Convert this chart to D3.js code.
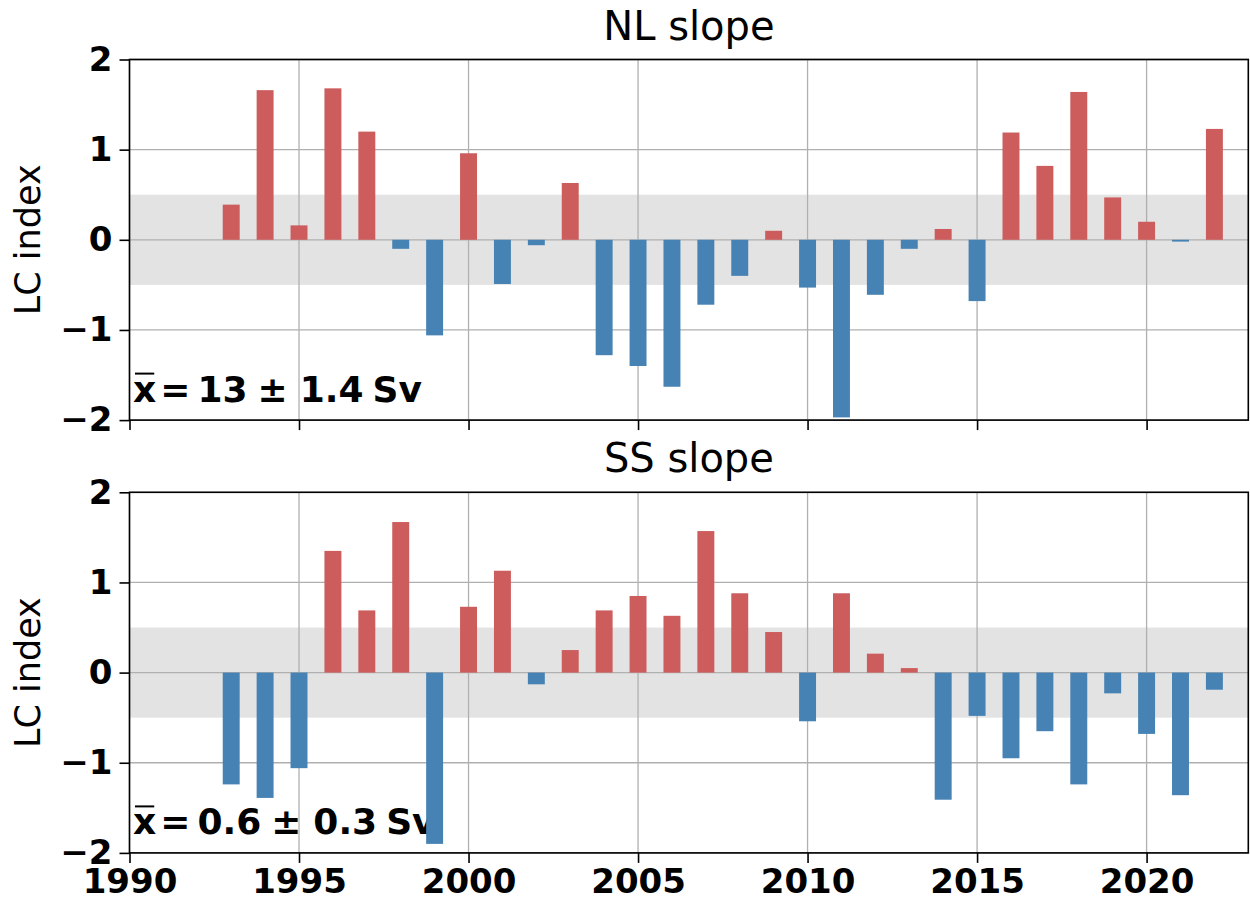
<!DOCTYPE html>
<html>
<head>
<meta charset="utf-8">
<script src="https://cdn.jsdelivr.net/npm/d3@7"></script>
<style>
  body { margin: 0; background: #fff; }
  text { font-family: "DejaVu Sans", sans-serif; fill: #000; }
</style>
</head>
<body>
<svg id="chart" width="1250" height="907"></svg>
<script>
// Years covered by the index
const years = [1993, 1994, 1995, 1996, 1997, 1998, 1999, 2000, 2001, 2002,
               2003, 2004, 2005, 2006, 2007, 2008, 2009, 2010, 2011, 2012,
               2013, 2014, 2015, 2016, 2017, 2018, 2019, 2020, 2021, 2022];

// Labrador Current index, Newfoundland slope
const nlSlope = [0.39, 1.66, 0.16, 1.68, 1.20, -0.10, -1.06, 0.96, -0.49, -0.06,
                 0.63, -1.28, -1.40, -1.63, -0.72, -0.40, 0.10, -0.53, -1.97, -0.61,
                 -0.10, 0.12, -0.68, 1.19, 0.82, 1.64, 0.47, 0.20, -0.02, 1.23];

// Labrador Current index, Scotian Shelf slope
const ssSlope = [-1.24, -1.39, -1.06, 1.35, 0.69, 1.67, -1.90, 0.73, 1.13, -0.13,
                 0.25, 0.69, 0.85, 0.63, 1.57, 0.88, 0.45, -0.54, 0.88, 0.21,
                 0.05, -1.41, -0.48, -0.95, -0.65, -1.24, -0.23, -0.68, -1.36, -0.19];

const panelTitles = ["NL slope", "SS slope"];
const meanValues = ["13", "0.6"];
const meanErrors = ["1.4", "0.3"];
const xTicks = [1990, 1995, 2000, 2005, 2010, 2015, 2020];
const yTicks = [-2, -1, 0, 1, 2];
const xDomain = [1990, 2023];
const yDomain = [-2, 2];
const normalBand = [-0.5, 0.5];

const svg = d3.select("#chart");
const left = 129.5, right = 1248.3;
const panelTops = [59.5, 492.3];
const panelHeight = 360.6;

const x = d3.scaleLinear().domain(xDomain).range([left, right]);
const barWidth = x(1990.5) - x(1990);

const series = [nlSlope, ssSlope];

series.forEach((vals, p) => {
  const top = panelTops[p], bottom = top + panelHeight;
  const y = d3.scaleLinear().domain(yDomain).range([bottom, top]);
  const g = svg.append("g");

  // shaded normal range
  g.append("rect")
    .attr("x", left).attr("width", right - left)
    .attr("y", y(normalBand[1])).attr("height", y(normalBand[0]) - y(normalBand[1]))
    .attr("fill", "#e3e3e3");

  // grid
  g.append("g").selectAll("line").data(xTicks).join("line")
    .attr("x1", d => x(d)).attr("x2", d => x(d))
    .attr("y1", top).attr("y2", bottom)
    .attr("stroke", "#b0b0b0").attr("stroke-width", 1.3);
  g.append("g").selectAll("line").data(yTicks).join("line")
    .attr("x1", left).attr("x2", right)
    .attr("y1", d => y(d)).attr("y2", d => y(d))
    .attr("stroke", "#b0b0b0").attr("stroke-width", 1.3);

  // mean annotation, laid out piece by piece like math text (sits under the bars)
  const baseY = bottom - 18.5;
  const pieces = ["x", "=", meanValues[p], "\u00b1", meanErrors[p], "Sv"];
  const gaps = [4, 7, 10, 12, 9];
  let cx = 133;
  const ann = g.append("g");
  pieces.forEach((s, i) => {
    const t = ann.append("text")
      .attr("x", cx).attr("y", baseY)
      .attr("font-size", 36).attr("font-weight", "bold")
      .text(s);
    const w = t.node().getComputedTextLength();
    if (i === 0) {
      ann.append("line")
        .attr("x1", cx + 2).attr("x2", cx + w - 2)
        .attr("y1", baseY - 28).attr("y2", baseY - 28)
        .attr("stroke", "#000").attr("stroke-width", 2);
    }
    cx += w + (gaps[i] || 0);
  });

  // bars
  const data = years.map((yr, i) => ({ yr, v: vals[i] }));
  g.append("g").selectAll("rect").data(data).join("rect")
    .attr("x", d => x(d.yr) - barWidth / 2)
    .attr("width", barWidth)
    .attr("y", d => y(Math.max(0, d.v)))
    .attr("height", d => Math.abs(y(d.v) - y(0)))
    .attr("fill", d => d.v >= 0 ? "#cd5c5c" : "#4682b4");

  // frame
  g.append("rect")
    .attr("x", left).attr("y", top)
    .attr("width", right - left).attr("height", bottom - top)
    .attr("fill", "none").attr("stroke", "#000").attr("stroke-width", 1.6);

  // y axis
  const yAxis = d3.axisLeft(y).tickValues(yTicks).tickSize(10).tickPadding(7)
    .tickFormat(d => d < 0 ? "\u2212" + Math.abs(d) : d);
  const ya = g.append("g").attr("transform", `translate(${left},0)`).call(yAxis);
  ya.select(".domain").remove();
  ya.selectAll(".tick line").attr("stroke", "#000").attr("stroke-width", 1.6);
  ya.selectAll(".tick text")
    .attr("font-size", 34).attr("font-weight", "bold")
    .attr("font-family", "DejaVu Sans").attr("fill", "#000");

  // x axis
  const xAxis = d3.axisBottom(x).tickValues(xTicks).tickSize(10).tickPadding(6)
    .tickFormat(p === 1 ? d3.format("d") : () => "");
  const xa = g.append("g").attr("transform", `translate(0,${bottom})`).call(xAxis);
  xa.select(".domain").remove();
  xa.selectAll(".tick line").attr("stroke", "#000").attr("stroke-width", 1.6);
  xa.selectAll(".tick text")
    .attr("font-size", 34).attr("font-weight", "bold")
    .attr("font-family", "DejaVu Sans").attr("fill", "#000");

  // y label
  g.append("text")
    .attr("transform", `translate(39.5,${(top + bottom) / 2}) rotate(-90)`)
    .attr("text-anchor", "middle")
    .attr("font-size", 35)
    .text("LC index");

  // title
  g.append("text")
    .attr("x", (left + right) / 2).attr("y", top - 20)
    .attr("text-anchor", "middle")
    .attr("font-size", 40)
    .text(panelTitles[p]);
});
</script>
</body>
</html>
